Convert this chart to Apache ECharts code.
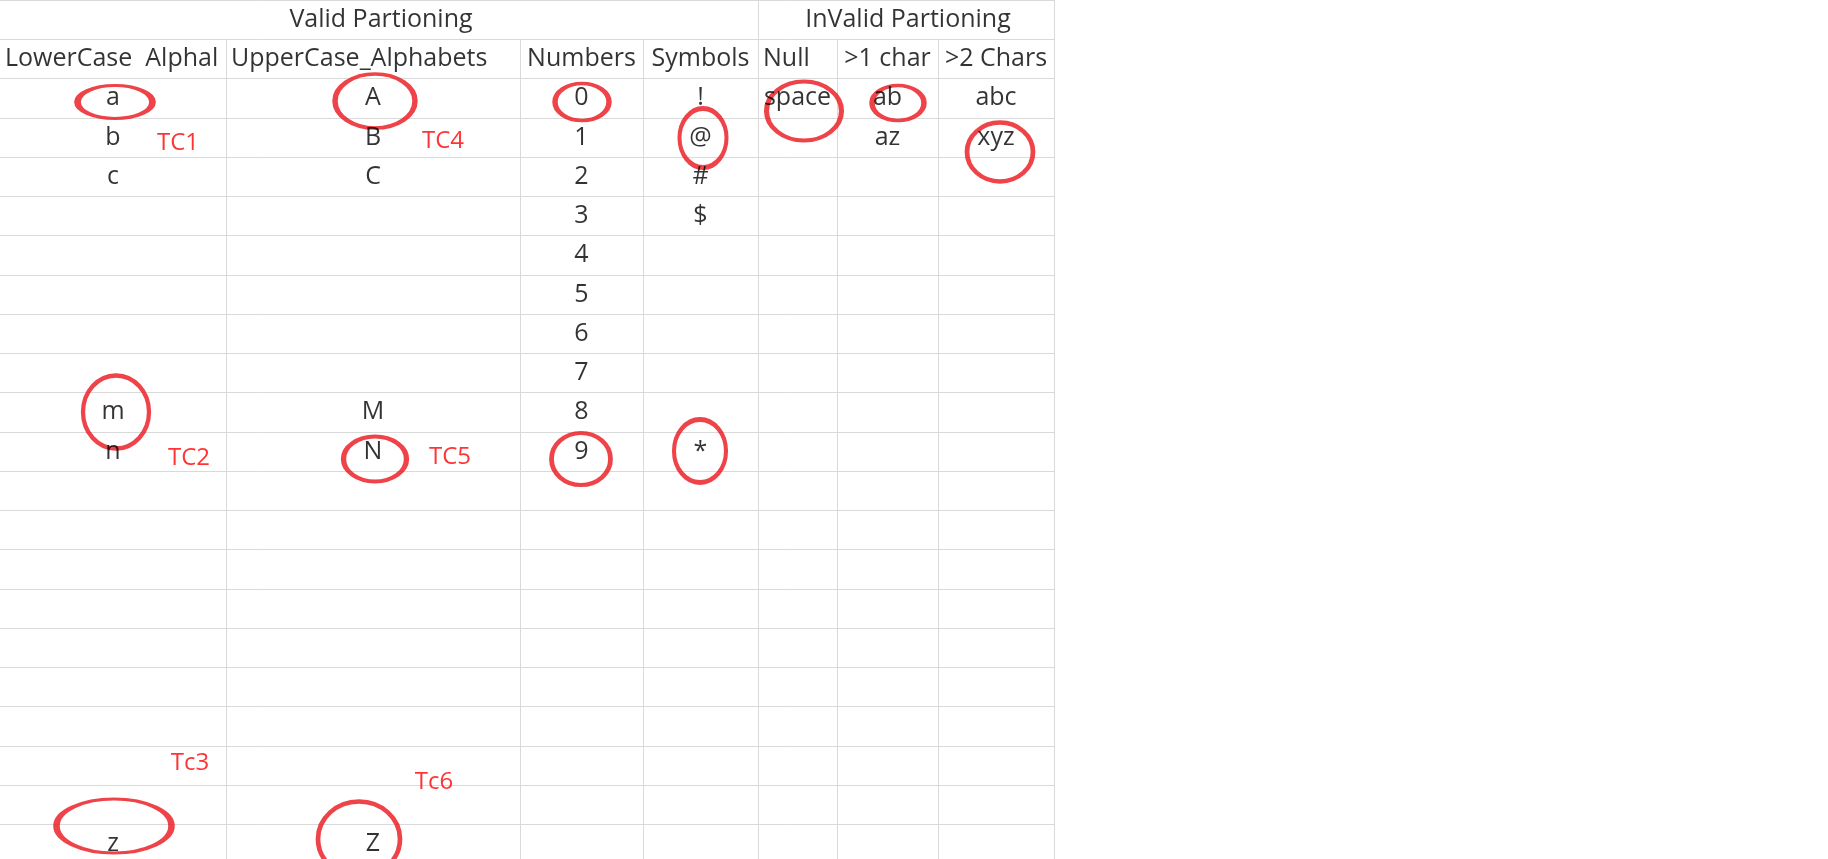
<!DOCTYPE html>
<html>
<head>
<meta charset="UTF-8">
<title></title>
<script src="https://cdn.jsdelivr.net/npm/echarts@6/dist/echarts.min.js"></script>
<style>
  html, body { margin: 0; padding: 0; background: #fff; }
  #chart1 { width: 1828px; height: 859px; }
</style>
</head>
<body>
<div id="chart1"></div>
<script type="text/javascript">
    // sheet layout (pixels)
    var colEdges = [0, 226, 520, 643, 758, 837, 938, 1054];
    var rowHeight = 39.25;
    var rowCount = 22;

    // [column, row, text, align]
    var headers = [
        [1.5, 0, 'Valid Partioning', 'span'],
        [5, 0, 'InValid Partioning', 'span'],
        [0, 1, 'LowerCase  Alphal', 'left'],
        [1, 1, 'UpperCase_Alphabets', 'left'],
        [2, 1, 'Numbers', 'center'],
        [3, 1, 'Symbols', 'center'],
        [4, 1, 'Null', 'left'],
        [5, 1, '>1 char', 'center'],
        [6, 1, '>2 Chars', 'center']
    ];
    var cells = [
        [0, 2, 'a'], [0, 3, 'b'], [0, 4, 'c'], [0, 10, 'm'], [0, 11, 'n'], [0, 21, 'z'],
        [1, 2, 'A'], [1, 3, 'B'], [1, 4, 'C'], [1, 10, 'M'], [1, 11, 'N'], [1, 21, 'Z'],
        [2, 2, '0'], [2, 3, '1'], [2, 4, '2'], [2, 5, '3'], [2, 6, '4'], [2, 7, '5'],
        [2, 8, '6'], [2, 9, '7'], [2, 10, '8'], [2, 11, '9'],
        [3, 2, '!'], [3, 3, '@'], [3, 4, '#'], [3, 5, '$'], [3, 11, '*'],
        [4, 2, 'space'], [5, 2, 'ab'], [5, 3, 'az'], [6, 2, 'abc'], [6, 3, 'xyz']
    ];
    // red notes: [x, y, text]
    var notes = [
        [178, 143, 'TC1'], [443, 141, 'TC4'], [189, 458, 'TC2'],
        [450, 457, 'TC5'], [190, 763, 'Tc3'], [434, 782, 'Tc6']
    ];
    // red rings: [cx, cy, width, height]
    var rings = [
        [115, 102, 75, 33], [375, 101, 80, 54], [582, 102, 54, 37],
        [703, 138, 47, 59], [804, 111, 75, 59], [898, 103, 52, 35],
        [1000, 152, 66, 59], [116, 412, 66, 73], [375, 459, 63, 45],
        [581, 459, 59, 52], [700, 451, 52, 63], [114, 826, 115, 54],
        [359, 839, 82, 75]
    ];

    var chart1 = echarts.init(document.getElementById('chart1'));

    var gridLines = [];
    for (var r = 0; r <= rowCount; r++) {
        gridLines.push({coords: [[0, r * rowHeight], [colEdges[colEdges.length - 1], r * rowHeight]]});
    }
    for (var c = 1; c < colEdges.length; c++) {
        var topY = (c === 4 || c === colEdges.length - 1) ? 0 : rowHeight;
        gridLines.push({coords: [[colEdges[c], topY], [colEdges[c], rowCount * rowHeight]]});
    }

    function colCenter(c) {
        return (colEdges[c] + colEdges[c + 1]) / 2;
    }

    var textData = [];
    headers.forEach(function (h) {
        var x, align = 'center';
        if (h[3] === 'span') x = h[0] === 1.5 ? 381 : 908;
        else if (h[3] === 'left') { x = colEdges[h[0]] + 5; align = 'left'; }
        else x = colCenter(h[0]);
        textData.push({value: [x, (h[1] + 0.5) * rowHeight], label: {formatter: h[2], align: align}});
    });
    cells.forEach(function (d) {
        textData.push({value: [colCenter(d[0]), (d[1] + 0.5) * rowHeight], label: {formatter: d[2]}});
    });

    var option = {
        animation: false,
        backgroundColor: '#fff',
        grid: {left: 0, right: 0, top: 0, bottom: 0},
        xAxis: {type: 'value', min: 0, max: 1828, show: false},
        yAxis: {type: 'value', min: 0, max: 859, inverse: true, show: false},
        series: [
            {
                type: 'lines',
                coordinateSystem: 'cartesian2d',
                lineStyle: {color: '#d9d9d9', width: 1, opacity: 1},
                data: gridLines,
                silent: true
            },
            {
                type: 'scatter',
                symbolSize: 0,
                data: textData,
                label: {
                    show: true, position: 'inside', color: '#000',
                    fontFamily: 'Open Sans', fontSize: 25, verticalAlign: 'middle'
                }
            },
            {
                type: 'scatter',
                symbolSize: 0,
                data: notes.map(function (n) {
                    return {value: [n[0], n[1]], label: {formatter: n[2]}};
                }),
                label: {
                    show: true, position: 'inside', color: '#ff0000',
                    fontFamily: 'Open Sans', fontSize: 24, verticalAlign: 'middle'
                }
            },
            {
                type: 'scatter',
                symbol: 'circle',
                data: rings.map(function (e) {
                    return {value: [e[0], e[1]], symbolSize: [e[2], e[3]]};
                }),
                itemStyle: {color: 'rgba(0,0,0,0)', borderColor: '#e8141c', borderWidth: 4.5}
            }
        ]
    };
    chart1.setOption(option);
</script>
</body>
</html>
